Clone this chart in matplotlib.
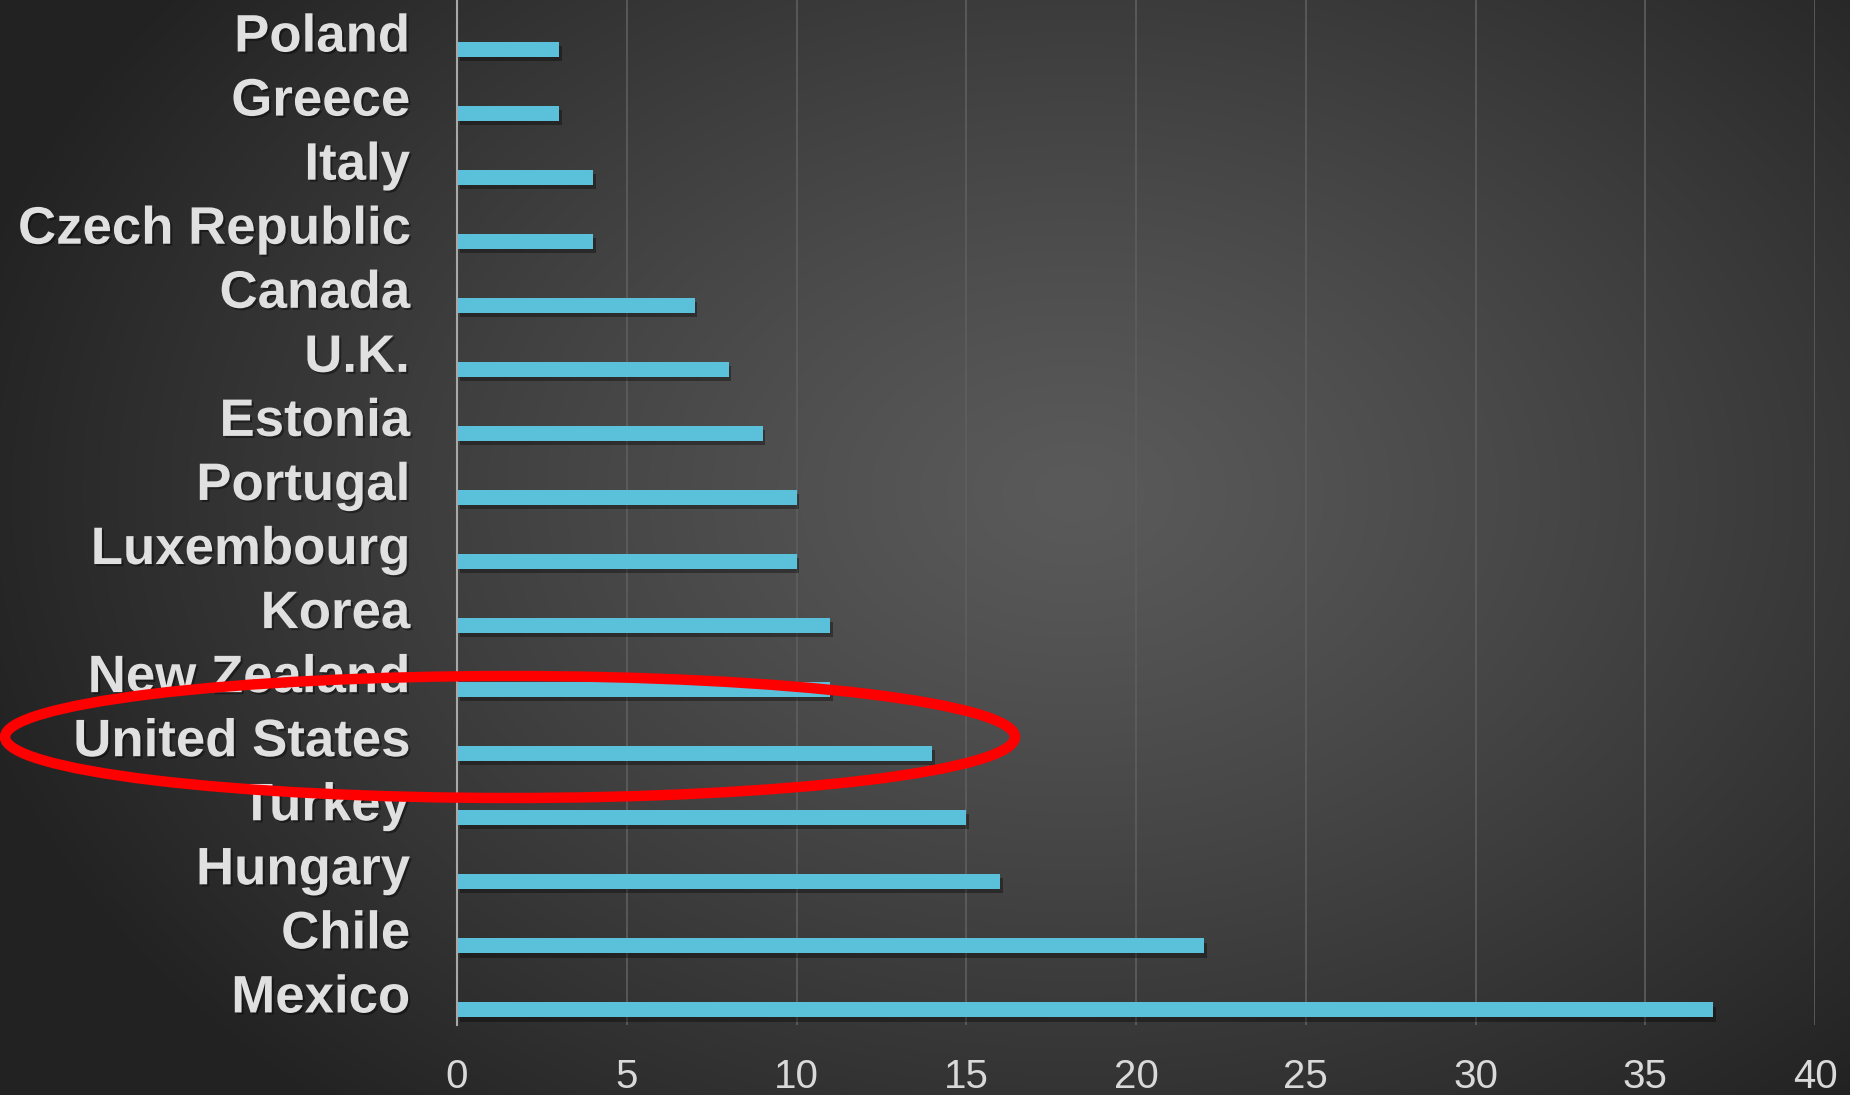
import numpy as np
import matplotlib
matplotlib.use("Agg")
import matplotlib.pyplot as plt
import matplotlib.patheffects as pe
from matplotlib.patches import Ellipse

countries = ["Poland", "Greece", "Italy", "Czech Republic", "Canada", "U.K.",
             "Estonia", "Portugal", "Luxembourg", "Korea", "New Zealand",
             "United States", "Turkey", "Hungary", "Chile", "Mexico"]
values = [3, 3, 4, 4, 7, 8, 9, 10, 10, 11, 11, 14, 15, 16, 22, 37]
xticks = [0, 5, 10, 15, 20, 25, 30, 35, 40]

W, H = 1850, 1095
fig = plt.figure(figsize=(W / 100, H / 100), dpi=100)

# radial gradient background
bg = fig.add_axes([0, 0, 1, 1], zorder=-10)
yy, xx = np.mgrid[0:H, 0:W]
cx, cy = 0.58 * W, 0.45 * H
r = np.sqrt(((xx - cx) / (0.62 * W)) ** 2 + ((yy - cy) / (0.75 * H)) ** 2)
r = np.clip(r, 0, 1)
c0, c1 = 0x5a / 255, 0x22 / 255
img = c0 + (c1 - c0) * r ** 1.2
bg.imshow(np.dstack([img, img, img]), extent=[0, 1, 0, 1], aspect="auto")
bg.axis("off")

ax = fig.add_axes([457 / W, 1 - 1025 / H, (1815 - 457) / W, 1025 / H])
ax.patch.set_alpha(0)
n = len(countries)
pos = np.arange(n)
offset = 0.265
bars = ax.barh(pos + offset, values, height=0.234, color="#5bc1db", zorder=3)
for b in bars:
    b.set_path_effects([pe.withSimplePatchShadow(offset=(2, -3), shadow_rgbFace="black", alpha=0.35)])

ax.set_ylim(n - 0.5, -0.5)
ax.set_xlim(0, 40)
ax.set_xticks(xticks)
ax.set_xticklabels([str(t) for t in xticks])
ax.set_yticks(pos)
ax.set_yticklabels(countries)
ax.tick_params(axis="x", length=0, pad=24, labelsize=29, labelcolor="#d9d9d9")
ax.tick_params(axis="y", length=0, pad=34, labelsize=38, labelcolor="#e0e0e0")
for lab in ax.get_xticklabels():
    lab.set_fontfamily("Liberation Sans")
for lab in ax.get_yticklabels():
    lab.set_fontfamily("Liberation Sans")
    lab.set_fontweight("bold")
    lab.set_path_effects([pe.withSimplePatchShadow(offset=(1.5, -1.5), shadow_rgbFace="black", alpha=0.4)])

ax.grid(axis="x", color="#5e5e5e", linewidth=1.2, zorder=0)
ax.set_axisbelow(True)
for s in ["top", "right", "bottom"]:
    ax.spines[s].set_visible(False)
ax.spines["left"].set_color("#a8a8a8")
ax.spines["left"].set_linewidth(1.5)
ax.spines["left"].set_zorder(4)

# red ellipse annotation
ov = fig.add_axes([0, 0, 1, 1], zorder=10)
ov.set_xlim(0, W)
ov.set_ylim(H, 0)
ov.axis("off")
ov.patch.set_alpha(0)
ov.add_patch(Ellipse((510, 737), 1010, 122, fill=False, edgecolor="#ff0000", linewidth=7.5))

fig.savefig("out.png", dpi=100)
